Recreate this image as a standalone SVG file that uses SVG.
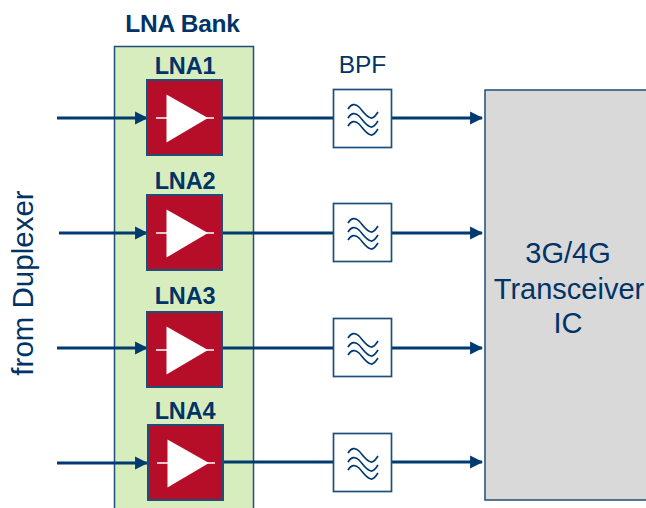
<svg xmlns="http://www.w3.org/2000/svg" xmlns:xlink="http://www.w3.org/1999/xlink" width="646" height="508" viewBox="0 0 646 508">
<style>
text{font-family:"Liberation Sans",Arial,sans-serif;fill:#003366}
.h{font-weight:bold;font-size:23.500px;text-anchor:middle;letter-spacing:-.2px}
.l{font-size:29px;text-anchor:middle}
.c{fill:none;stroke:#003a70;stroke-width:3}
.w{fill:none;stroke:#003a70;stroke-width:1.700}
.f{fill:#fff;stroke:#1f4e79;stroke-width:1.700}
.r{fill:#b60d29;stroke:#1f4e79;stroke-width:2}
</style>
<defs>
<marker id="a" markerUnits="userSpaceOnUse" markerWidth="13" markerHeight="14" refX="11" refY="6" orient="auto" viewBox="0 0 12 12"><path d="M0 0L12 6L0 12Z" fill="#003a70"/></marker>
<g id="amp"><rect class="r" x="0" y="0" width="75" height="75"/><path d="M9 38H67" stroke="#fff" stroke-width="1.500"/><path d="M19.500 14.500L61 38L19.500 62.500Z" fill="#fff"/></g>
<g id="wave"><path class="w" d="M15 20C18 15 22 14 26 18C30 22 33 28 38 29C41 29.500 43 26 45 23M15 29C18 24 22 23 26 27C30 31 33 37 38 38C41 38.500 43 35 45 32M15 37C18 32 22 31 26 35C30 39 33 45 38 46C41 46.500 43 43 45 40"/></g>
</defs>
<g id="bank"><rect x="114.500" y="46.500" width="139" height="470" fill="#d7edbd" stroke="#1f4e79" stroke-width="1.500"/><text class="h" x="182.500" y="32" style="font-size:24.500px">LNA Bank</text></g>
<g id="connectors">
<path class="c" d="M57 118H147" marker-end="url(#a)"/><path class="c" d="M59 233H147" marker-end="url(#a)"/><path class="c" d="M57 348H147" marker-end="url(#a)"/><path class="c" d="M57 463H147" marker-end="url(#a)"/>
<path class="c" d="M222 118H333M392 118H482" marker-end="url(#a)"/><path class="c" d="M222 233H333M392 233H482" marker-end="url(#a)"/><path class="c" d="M222 348H333M392 348H482" marker-end="url(#a)"/><path class="c" d="M222 462H333M392 462H482" marker-end="url(#a)"/>
</g>
<g id="lna1"><text class="h" x="185" y="74">LNA1</text><use xlink:href="#amp" x="147" y="80"/></g>
<g id="lna2"><text class="h" x="185" y="189">LNA2</text><use xlink:href="#amp" x="147" y="195"/></g>
<g id="lna3"><text class="h" x="185" y="304">LNA3</text><use xlink:href="#amp" x="147" y="312"/></g>
<g id="lna4"><text class="h" x="185" y="419">LNA4</text><use xlink:href="#amp" x="148" y="425"/></g>
<g id="bpf1"><rect class="f" x="333.500" y="89.500" width="58" height="58"/><use xlink:href="#wave" x="333" y="89"/></g>
<g id="bpf2"><rect class="f" x="333.500" y="203.500" width="58" height="58"/><use xlink:href="#wave" x="333" y="203"/></g>
<g id="bpf3"><rect class="f" x="333.500" y="318.500" width="58" height="58"/><use xlink:href="#wave" x="333" y="318"/></g>
<g id="bpf4"><rect class="f" x="333.500" y="433.500" width="58" height="58"/><use xlink:href="#wave" x="333" y="433"/></g>
<g id="bpf-label"><text x="362.500" y="73" font-size="24.500" text-anchor="middle">BPF</text></g>
<g id="transceiver"><rect x="485" y="90" width="170" height="410" fill="#d9d9d9" stroke="#1f4e79" stroke-width="1.500"/>
<text class="l" x="568" y="263">3G/4G</text><text class="l" x="569" y="299">Transceiver</text><text class="l" x="568" y="333">IC</text></g>
<g id="duplexer"><text transform="translate(33 283) rotate(-90)" font-size="29.500" text-anchor="middle">from Duplexer</text></g>
</svg>
